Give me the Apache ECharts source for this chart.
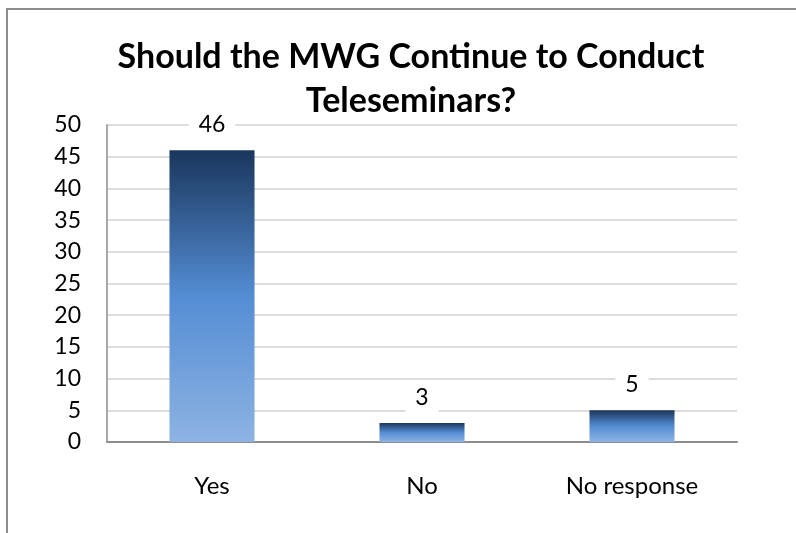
<!DOCTYPE html>
<html>
<head>
<meta charset="utf-8">
<script src="https://cdn.jsdelivr.net/npm/echarts@6/dist/echarts.min.js"></script>
<style>
  html, body { margin: 0; padding: 0; background: #fff; }
  #chart { width: 796px; height: 533px; }
</style>
</head>
<body>
<div id="chart"></div>
<script>
// Survey answers: should the MWG keep running teleseminars
const categories = ['Yes', 'No', 'No response'];
const responses = [46, 3, 5];
const yTicks = { min: 0, max: 50, interval: 5 };
const titleText = 'Should the MWG Continue to Conduct\nTeleseminars?';

const FONT = 'Lato, "Open Sans", sans-serif';

const chart = echarts.init(document.getElementById('chart'), null, { renderer: 'canvas' });

// each bar shades from dark navy at its top to pale blue at its base
const barFill = new echarts.graphic.LinearGradient(0, 0, 0, 1, [
  { offset: 0, color: '#1a365c' },
  { offset: 0.5, color: '#548dd4' },
  { offset: 1, color: '#8db3e3' }
]);

chart.setOption({
  backgroundColor: '#ffffff',
  animation: false,
  title: {
    text: titleText,
    left: 406,
    top: 30,
    textAlign: 'center',
    textStyle: {
      fontFamily: FONT,
      fontWeight: 'bold',
      fontSize: 34,
      lineHeight: 44,
      color: '#000'
    }
  },
  graphic: [{
    type: 'rect',
    shape: { x: 7, y: 9, width: 820, height: 560 },
    style: { fill: 'none', stroke: '#8c8c8c', lineWidth: 2 },
    silent: true
  }],
  grid: { left: 107, right: 59, top: 125, bottom: 91 },
  xAxis: {
    type: 'category',
    data: categories,
    axisLine: { show: true, lineStyle: { color: '#8c8c8c', width: 2 } },
    axisTick: { show: false },
    axisLabel: { fontFamily: FONT, fontSize: 24, color: '#000', margin: 32 }
  },
  yAxis: {
    type: 'value',
    min: yTicks.min,
    max: yTicks.max,
    interval: yTicks.interval,
    axisLine: { show: true, lineStyle: { color: '#8c8c8c', width: 1.5 } },
    axisTick: { show: false },
    axisLabel: { fontFamily: FONT, fontSize: 23, color: '#000', margin: 26 },
    splitLine: { lineStyle: { color: '#dcdcdc', width: 2 } }
  },
  series: [{
    type: 'bar',
    data: responses,
    barWidth: '40.5%',
    itemStyle: { color: barFill },
    label: {
      show: true,
      position: 'top',
      distance: 11,
      fontFamily: FONT,
      fontSize: 23,
      color: '#000',
      backgroundColor: '#fff',
      padding: [3, 10, 3, 10]
    }
  }]
});
</script>
</body>
</html>
